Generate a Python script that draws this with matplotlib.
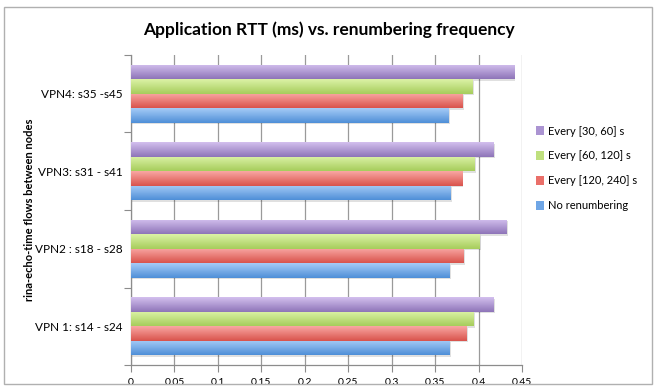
import numpy as np
import matplotlib
matplotlib.use("Agg")
import matplotlib.pyplot as plt
from matplotlib.patches import Rectangle
from matplotlib.colors import LinearSegmentedColormap

categories = ["VPN 1: s14 - s24", "VPN2 : s18 - s28", "VPN3: s31 - s41", "VPN4: s35 -s45"]
series_names = ["No renumbering", "Every [120, 240] s", "Every [60, 120] s", "Every [30, 60] s"]
no_renum = [0.367, 0.367, 0.368, 0.366]
every_120_240 = [0.386, 0.383, 0.381, 0.382]
every_60_120 = [0.394, 0.401, 0.395, 0.393]
every_30_60 = [0.417, 0.432, 0.417, 0.441]
x_ticks = [0, 0.05, 0.1, 0.15, 0.2, 0.25, 0.3, 0.35, 0.4, 0.45]
x_tick_labels = ["0", "0.05", "0.1", "0.15", "0.2", "0.25", "0.3", "0.35", "0.4", "0.45"]

series_values = [no_renum, every_120_240, every_60_120, every_30_60]
# (light top, dark bottom, legend color)
grads = [
    ("#a6cbf6", "#4e8fd8", "#6fa6e6"),
    ("#f9a7a3", "#d9534c", "#ea6f69"),
    ("#dcf2a6", "#a6cd5c", "#bfe07e"),
    ("#d3c0ee", "#8e74b8", "#ab94d2"),
]

plt.rcParams['font.family'] = ['Lato', 'DejaVu Sans']

fig = plt.figure(figsize=(6.57, 3.87), dpi=100)
fig.patches.append(Rectangle((0.006, 0.008), 0.986, 0.975, transform=fig.transFigure,
                             fill=False, edgecolor="#b0b0b0", linewidth=1.0))
ax = fig.add_axes([0.1994, 0.0568, 0.5951, 0.8011])

n_series = len(series_values)
bar_h = 0.1875
y_base = np.arange(len(categories))
for i, vals in enumerate(series_values):
    offs = (i - (n_series - 1) / 2) * bar_h
    ys = y_base + offs
    light, dark, mid = grads[i]
    # shadow
    ax.barh(ys - 0.02, vals, height=bar_h, left=0.0015, color="#000000", alpha=0.12,
            linewidth=0, zorder=2)
    bars = ax.barh(ys, vals, height=bar_h, color=mid, linewidth=0, zorder=3,
                   label=series_names[i])
    cmap = LinearSegmentedColormap.from_list("g%d" % i, [dark, light])
    grad = np.linspace(0, 1, 64).reshape(-1, 1)
    for b in bars:
        x0, y0 = b.get_x(), b.get_y()
        w, h = b.get_width(), b.get_height()
        im = ax.imshow(grad, extent=[x0, x0 + w, y0, y0 + h], origin="lower",
                       aspect="auto", cmap=cmap, zorder=4, interpolation="bilinear")
        im.set_clip_path(b)

ax.set_xlim(0, 0.45)
ax.set_ylim(-0.5, len(categories) - 0.5)
ax.set_xticks(x_ticks)
ax.set_xticklabels(x_tick_labels, fontsize=7.5)
ax.set_yticks(y_base)
ax.set_yticklabels(categories, fontsize=8.5)
ax.tick_params(axis="y", length=0, pad=6)
ax.set_yticks(np.arange(len(categories) + 1) - 0.5, minor=True)
ax.tick_params(axis="y", which="minor", length=5, color="#8c8c8c", width=0.8)
ax.tick_params(axis="x", length=5, color="#8c8c8c", width=0.8, direction="out", pad=4)
ax.grid(axis="x", color="#9a9a9a", linewidth=0.9, zorder=0)
ax.set_axisbelow(True)
for s in ["top", "right"]:
    ax.spines[s].set_visible(False)
for s in ["left", "bottom"]:
    ax.spines[s].set_color("#8c8c8c")
    ax.spines[s].set_linewidth(0.9)

ax.set_ylabel("rina-echo-time flows between nodes", fontsize=8, fontweight="bold", labelpad=8)
ax.yaxis.set_label_coords(-0.245, 0.5)

fig.text(0.5, 0.922, "Application RTT (ms) vs. renumbering frequency", ha="center", va="center",
         fontsize=12.5, fontweight="bold")

handles, labels = ax.get_legend_handles_labels()
leg = fig.legend(handles[::-1], labels[::-1], loc="center left", bbox_to_anchor=(0.8, 0.565),
                 frameon=False, fontsize=8, handlelength=0.8, handleheight=0.8,
                 handletextpad=0.3, labelspacing=1.25)

fig.savefig("out.png", dpi=100)
